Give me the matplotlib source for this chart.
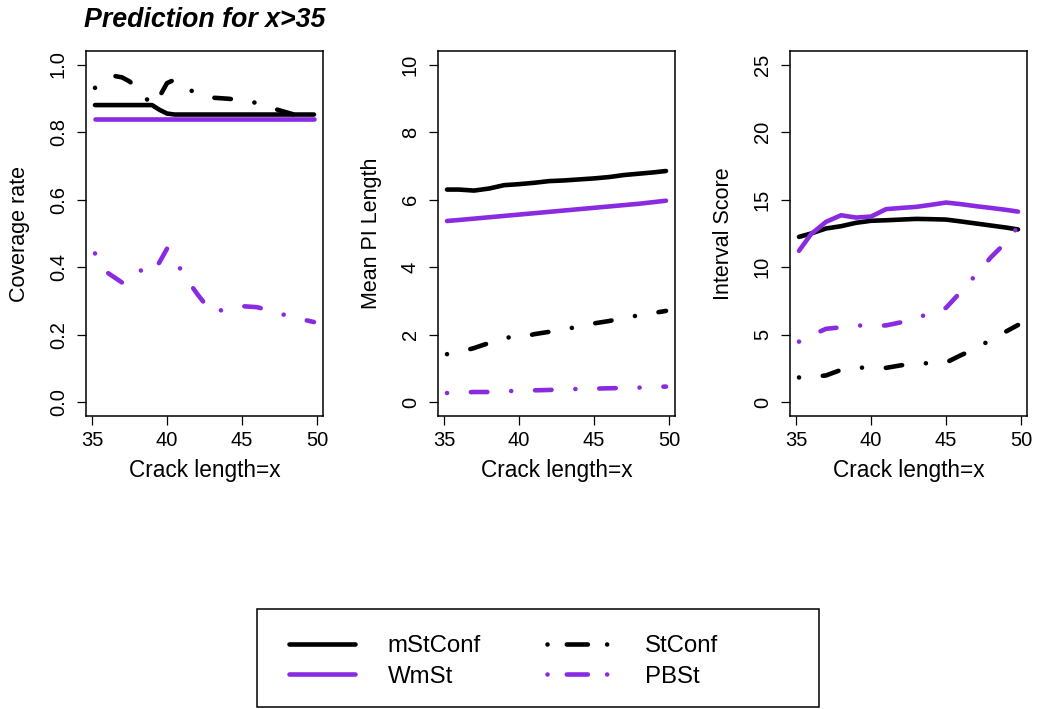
import matplotlib
matplotlib.use("Agg")
import matplotlib.pyplot as plt
from matplotlib.lines import Line2D
from matplotlib.patches import Rectangle

plt.rcParams['font.family'] = ['Liberation Sans', 'DejaVu Sans']

# ---------------- data ----------------
series_names = ["mStConf", "WmSt", "StConf", "PBSt"]

# Panel 1: coverage rate
x_cov = [35.2, 36, 36.5, 37, 37.5, 38, 38.5, 39, 39.5, 40, 40.5, 41, 42, 43, 44, 45, 46, 47, 48, 49, 49.8]
cov_mStConf = [0.88, 0.88, 0.88, 0.88, 0.88, 0.88, 0.88, 0.88, 0.866, 0.855, 0.852, 0.852, 0.852, 0.852,
               0.852, 0.852, 0.852, 0.852, 0.852, 0.852, 0.852]
cov_WmSt = [0.84] * 21
cov_StConf = [0.931, 0.95, 0.966, 0.962, 0.95, 0.93, 0.906, 0.878, 0.905, 0.945, 0.955, 0.935, 0.915,
              0.902, 0.899, 0.895, 0.886, 0.871, 0.858, 0.845, 0.833]
cov_PBSt = [0.441, 0.385, 0.37, 0.355, 0.375, 0.393, 0.388, 0.382, 0.415, 0.455, 0.43, 0.385, 0.322,
            0.265, 0.278, 0.285, 0.282, 0.27, 0.257, 0.246, 0.238]

# Panels 2 & 3
x_grid = [35.2, 36, 37, 38, 39, 40, 41, 42, 43, 44, 45, 46, 47, 48, 49, 49.8]
len_mStConf = [6.30, 6.30, 6.27, 6.33, 6.43, 6.46, 6.50, 6.55, 6.57, 6.60, 6.63, 6.67, 6.73, 6.77, 6.81, 6.85]
len_WmSt = [5.37, 5.40, 5.44, 5.48, 5.52, 5.56, 5.60, 5.64, 5.68, 5.72, 5.76, 5.80, 5.84, 5.88, 5.93, 5.97]
len_StConf = [1.43, 1.49, 1.61, 1.76, 1.93, 1.91, 2.02, 2.09, 2.16, 2.25, 2.34, 2.41, 2.50, 2.58, 2.65, 2.71]
len_PBSt = [0.28, 0.29, 0.31, 0.31, 0.33, 0.35, 0.36, 0.37, 0.39, 0.40, 0.41, 0.42, 0.43, 0.44, 0.46, 0.47]

is_mStConf = [12.25, 12.5, 12.87, 13.04, 13.29, 13.44, 13.48, 13.53, 13.58, 13.56, 13.53, 13.39, 13.24,
              13.09, 12.94, 12.8]
is_WmSt = [11.22, 12.45, 13.36, 13.85, 13.68, 13.75, 14.30, 14.39, 14.47, 14.62, 14.79, 14.67, 14.52,
           14.39, 14.25, 14.12]
is_StConf = [1.85, 1.88, 2.0, 2.41, 2.58, 2.57, 2.56, 2.75, 2.86, 2.92, 2.95, 3.5, 4.0, 4.65, 5.25, 5.73]
is_PBSt = [4.5, 4.95, 5.45, 5.56, 5.7, 5.68, 5.7, 5.93, 6.3, 6.55, 7.0, 8.2, 9.45, 10.75, 11.85, 13.0]

x_ticks = [35, 40, 45, 50]
y_ticks_cov = [0.0, 0.2, 0.4, 0.6, 0.8, 1.0]
y_ticks_len = [0, 2, 4, 6, 8, 10]
y_ticks_is = [0, 5, 10, 15, 20, 25]

# ---------------- style ----------------
BLACK = "black"
PURPLE = "#8A2BE2"
LW = 3.3
DOTDASH = (0, (0.01, 5.2, 3.6, 5.2))
DOTDASH_LEG = (0, (0.01, 4.2, 4.6, 4.2))
colors = {"mStConf": BLACK, "WmSt": PURPLE, "StConf": BLACK, "PBSt": PURPLE}
plot_ls = {"mStConf": "-", "WmSt": "-", "StConf": DOTDASH, "PBSt": DOTDASH}
leg_ls = {"mStConf": "-", "WmSt": "-", "StConf": DOTDASH_LEG, "PBSt": DOTDASH_LEG}
common = dict(linewidth=LW, solid_capstyle="round", dash_capstyle="round",
              solid_joinstyle="round", dash_joinstyle="round")

W, H = 1037, 709
fig = plt.figure(figsize=(W / 100, H / 100), dpi=100)

ax_left_px = [86, 438, 790]
ax_w_px = 237
ax_top_px, ax_bot_px = 51, 416

panels = [
    (x_cov, [cov_mStConf, cov_WmSt, cov_StConf, cov_PBSt], "Coverage rate", y_ticks_cov,
     (-0.04, 1.04), ["0.0", "0.2", "0.4", "0.6", "0.8", "1.0"]),
    (x_grid, [len_mStConf, len_WmSt, len_StConf, len_PBSt], "Mean PI Length", y_ticks_len,
     (-0.4, 10.4), None),
    (x_grid, [is_mStConf, is_WmSt, is_StConf, is_PBSt], "Interval Score", y_ticks_is,
     (-1.0, 26.0), None),
]

axes = []
for i, (xs, ys_list, ylab, yt, ylim, ytl) in enumerate(panels):
    ax = fig.add_axes([ax_left_px[i] / W, 1 - ax_bot_px / H, ax_w_px / W, (ax_bot_px - ax_top_px) / H])
    axes.append(ax)
    for name, ys in zip(series_names, ys_list):
        ax.plot(xs, ys, color=colors[name], linestyle=plot_ls[name], **common)
    ax.set_xlim(34.6, 50.4)
    ax.set_ylim(*ylim)
    ax.set_xticks(x_ticks)
    ax.set_yticks(yt)
    if ytl is not None:
        ax.set_yticklabels(ytl)
    ax.tick_params(axis="both", direction="out", length=6.5, width=0.9, labelsize=14.5, colors="black")
    ax.tick_params(axis="x", pad=4.5)
    ax.tick_params(axis="y", pad=6.5, labelrotation=90)
    for lbl in ax.get_yticklabels():
        lbl.set_va("center")
    for sp in ax.spines.values():
        sp.set_linewidth(1.1)
    ax.set_ylabel(ylab, fontsize=15.5)
    ax.yaxis.set_label_coords(-56 / ax_w_px, 0.5)
    ax.set_xlabel("Crack length=x", fontsize=16.3)
    ax.xaxis.set_label_coords(0.5, -(459 - ax_bot_px) / (ax_bot_px - ax_top_px))

axes[0].set_title("Prediction for x>35", fontsize=19.3, fontweight="bold", style="italic", pad=17)

# ---------------- legend ----------------
handles = [Line2D([], [], color=colors[n], linestyle=leg_ls[n], **common) for n in series_names]
fs = 17.3
fig.legend(handles, series_names, ncol=2, loc="upper left",
           bbox_to_anchor=(289 / W, 1 - 635 / H), frameon=False, fontsize=fs,
           borderpad=0, borderaxespad=0, handlelength=2.75, handletextpad=1.35,
           columnspacing=2.75, labelspacing=0.36)
fig.add_artist(Rectangle((257 / W, 1 - 707 / H), 562 / W, 98 / H, transform=fig.transFigure,
                         fill=False, edgecolor="black", linewidth=1.1))

fig.savefig("out.png", dpi=100)
